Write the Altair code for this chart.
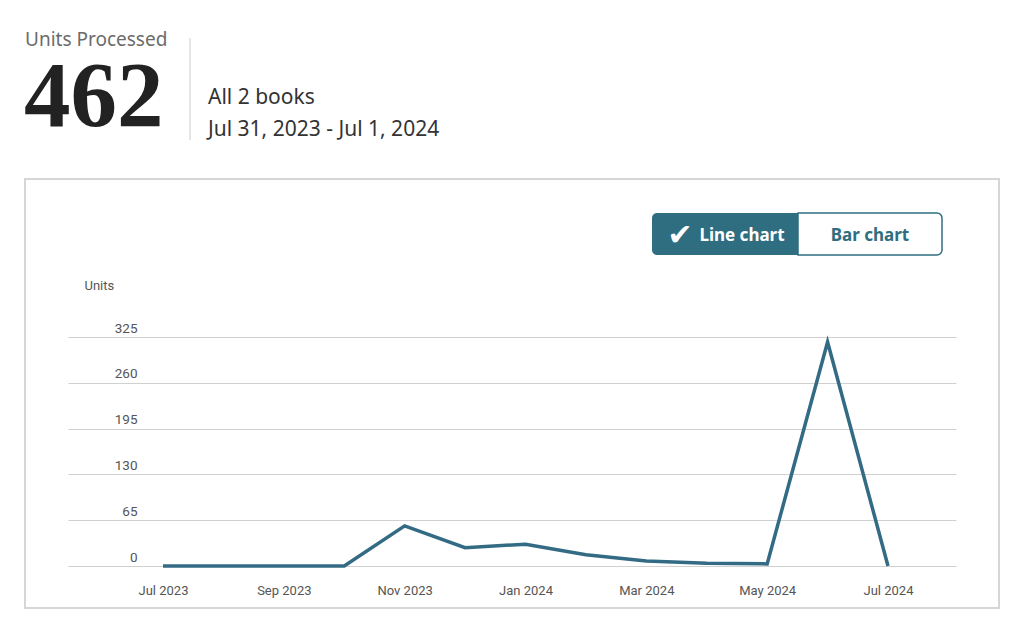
import altair as alt
import pandas as pd

# ---- data ----
months = ["Jul 2023", "Aug 2023", "Sep 2023", "Oct 2023", "Nov 2023", "Dec 2023",
          "Jan 2024", "Feb 2024", "Mar 2024", "Apr 2024", "May 2024", "Jun 2024", "Jul 2024"]
units = [0, 0, 0, 0, 57, 26, 31, 16, 7, 4, 3, 318, 0]
y_ticks = [0, 65, 130, 195, 260, 325]
x_tick_idx = [0, 2, 4, 6, 8, 10, 12]

df = pd.DataFrame({"idx": list(range(len(months))), "month": months, "units": units})

LINE = "#336a84"
BTN = "#2f6e80"
W, H = 888, 229
step = 725 / 12.0
x_domain = [-95 / step, 12 + 68 / step]

label_expr = "[" + ",".join('"%s"' % m for m in months) + "][datum.value]"

line = alt.Chart(df).mark_line(color=LINE, strokeWidth=3.5, strokeJoin="miter").encode(
    x=alt.X("idx:Q", scale=alt.Scale(domain=x_domain, nice=False, zero=False),
            axis=alt.Axis(values=x_tick_idx, labelExpr=label_expr, title=None, grid=False,
                          domain=False, ticks=False, tickSize=0, labelPadding=18,
                          labelFont="Roboto", labelFontSize=13, labelColor="#555555")),
    y=alt.Y("units:Q", scale=alt.Scale(domain=[0, 325], nice=False),
            axis=alt.Axis(values=y_ticks, title="Units", titleAngle=0, titleAlign="left",
                          titleBaseline="middle", titleX=16, titleY=-52, titleFont="Roboto",
                          titleFontSize=13, titleFontWeight="normal", titleColor="#555555",
                          grid=True, gridColor="#d0d0d0", gridWidth=1, domain=False,
                          ticks=False, tickSize=0, labelPadding=-69, labelAlign="right",
                          labelBaseline="alphabetic", labelOffset=-5, labelFont="Roboto",
                          labelFontSize=13.5, labelColor="#555555")),
)

one = alt.Data(values=[{"a": 1}])

def txt(s, x, y, size, color, font="Noto Sans", weight="normal", align="left", baseline="alphabetic"):
    return alt.Chart(one).mark_text(text=s, fontSize=size, color=color, font=font,
                                    fontWeight=weight, align=align, baseline=baseline).encode(
        x=alt.value(x), y=alt.value(y))

box = alt.Chart(one).mark_rect(fillOpacity=0, stroke="#d6d6d6", strokeWidth=2).encode(
    x=alt.value(-43), x2=alt.value(931), y=alt.value(-158), y2=alt.value(271))

sep = alt.Chart(one).mark_rule(color="#cccccc", strokeWidth=1).encode(
    x=alt.value(122), y=alt.value(-299), y2=alt.value(-197))

btn_left = alt.Chart(one).mark_rect(fill=BTN, cornerRadiusTopLeft=5, cornerRadiusBottomLeft=5).encode(
    x=alt.value(584), x2=alt.value(730), y=alt.value(-124), y2=alt.value(-82))
btn_right = alt.Chart(one).mark_rect(fill="white", stroke=BTN, strokeWidth=1.5,
                                     cornerRadiusTopRight=5, cornerRadiusBottomRight=5).encode(
    x=alt.value(730), x2=alt.value(874), y=alt.value(-124), y2=alt.value(-82))

layers = [
    box, sep,
    txt("Units Processed", -43, -291, 19, "#6b6b6b"),
    txt("462", -44, -211, 93, "#222222", font="Liberation Serif", weight="bold"),
    txt("All 2 books", 140, -233, 21, "#333333"),
    txt("Jul 31, 2023 - Jul 1, 2024", 140, -201, 21, "#333333"),
    btn_left, btn_right,
    txt("\u2714", 612, -101, 30, "white", font="DejaVu Sans", align="center", baseline="middle"),
    txt("Line chart", 674, -101, 17, "white", weight="bold", align="center", baseline="middle"),
    txt("Bar chart", 802, -101, 17, BTN, weight="bold", align="center", baseline="middle"),
    line,
]

chart = alt.layer(*layers).properties(
    width=W, height=H,
    background="white",
    autosize=alt.AutoSizeParams(type="none"),
    padding={"left": 60, "top": 329, "right": 60, "bottom": 56},
).configure_view(strokeWidth=0, stroke="transparent")

chart.save("out.html", embed_options={"renderer": "svg", "actions": False})
